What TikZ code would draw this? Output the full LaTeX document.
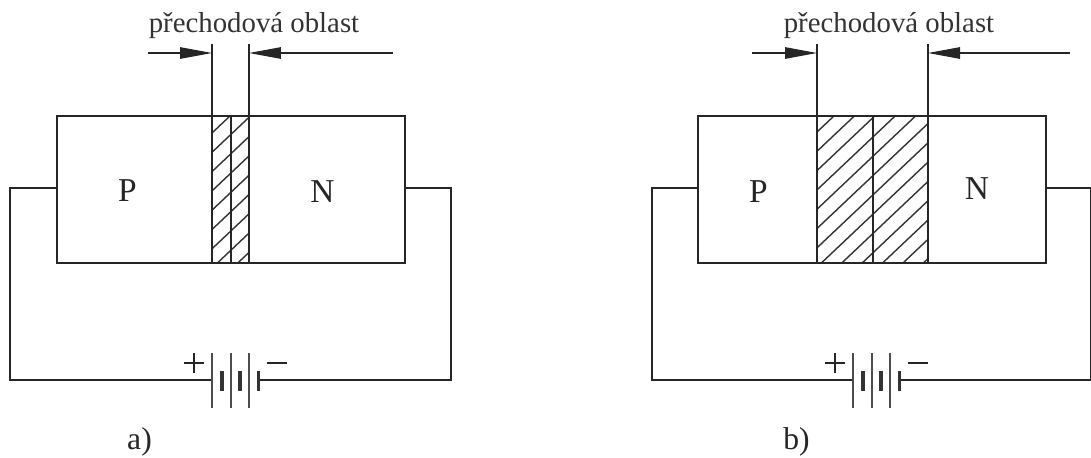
\documentclass[tikz,border=0pt]{standalone}
\usepackage{fontspec}
\setmainfont{Liberation Serif}
\tikzset{
    wire/.style={line width=0.6pt,black!85},
    hatchline/.style={line width=0.8pt,black!80},
    long plate/.style={line width=0.7pt,black!70},
    short plate/.style={line width=1.9pt,black!80},
    width arrow/.style={-{Triangle[length=0.64cm,width=0.23cm]},line width=0.6pt,black!85},
    region label/.style={font=\fontsize{16.4}{19}\selectfont,text=black!80,inner sep=0pt},
    side label/.style={font=\fontsize{19}{22}\selectfont,text=black!85,inner sep=0pt},
    case label/.style={font=\fontsize{18}{21}\selectfont,text=black!85,inner sep=0pt}
}
\usetikzlibrary{arrows.meta}
\begin{document}
\begin{tikzpicture}[x=0.02cm,y=-0.02cm]
        \useasboundingbox (0,0) rectangle (1091,457);

        % --- case a
        \coordinate (a tl) at (57,116);
        \coordinate (a br) at (405,263);
        \coordinate (a wl) at (57,188);
        \coordinate (a wr) at (405,188);
        \coordinate (a cl) at (10,380);
        \coordinate (a cr) at (451,380);
        \coordinate (a rt1) at (212,44);
        \coordinate (a rb1) at (212,263);
        \coordinate (a rt2) at (249,44);
        \coordinate (a rb2) at (249,263);
        \coordinate (a mt) at (231,116);
        \coordinate (a mb) at (231,263);
        \coordinate (a al) at (148,53);
        \coordinate (a ar) at (393,53);
        \coordinate (a tip1) at (212,53);
        \coordinate (a tip2) at (249,53);
        \coordinate (a bl) at (212,380);
        \coordinate (a bn) at (258,380);

        \begin{scope}
            \clip (212,116) rectangle (249,263);
            \foreach \k in {-2,...,8}
                \draw[hatchline] (212,133+19.3*\k) -- ++(37,-35);
        \end{scope}
        \draw[wire] (a tl) rectangle (a br);
        \draw[wire] (a rt1) -- (a rb1);
        \draw[wire] (a rt2) -- (a rb2);
        \draw[wire] (a mt) -- (a mb);
        \draw[width arrow] (a al) -- (a tip1);
        \draw[width arrow] (a ar) -- (a tip2);
        \draw[wire] (a wl) -| (a cl) -- (a bl);
        \draw[wire] (a wr) -| (a cr) -- (a bn);

        % battery a
        \foreach \x in {212,231,249}
            \draw[long plate] (\x,353) -- (\x,408);
        \foreach \x in {222,240,258.5}
            \draw[short plate] (\x,371) -- (\x,391);
        \draw[wire] (184,363) -- (204,363) (194,353) -- (194,373);
        \draw[wire] (267,363) -- (287,363);

        \node[region label] at (254,26) (a region) {přechodová oblast};
        \node[side label] at (127.5,190.5) (a p) {P};
        \node[side label] at (322.5,192) (a n) {N};
        \node[case label] at (139.5,442) (a case) {a)};

        % --- case b
        \coordinate (b tl) at (698,116);
        \coordinate (b br) at (1046,263);
        \coordinate (b wl) at (698,188);
        \coordinate (b wr) at (1046,188);
        \coordinate (b cl) at (652,380);
        \coordinate (b cr) at (1091,380);
        \coordinate (b rt1) at (817,44);
        \coordinate (b rb1) at (817,263);
        \coordinate (b rt2) at (928,44);
        \coordinate (b rb2) at (928,263);
        \coordinate (b mt) at (873,116);
        \coordinate (b mb) at (873,263);
        \coordinate (b al) at (752,53);
        \coordinate (b ar) at (1070,53);
        \coordinate (b tip1) at (817,53);
        \coordinate (b tip2) at (928,53);
        \coordinate (b bl) at (853,380);
        \coordinate (b bn) at (899,380);

        \begin{scope}
            \clip (817,116) rectangle (928,263);
            \foreach \k in {-1,...,12}
                \draw[hatchline] (817,132+19.3*\k) -- ++(111,-105);
        \end{scope}
        \draw[wire] (b tl) rectangle (b br);
        \draw[wire] (b rt1) -- (b rb1);
        \draw[wire] (b rt2) -- (b rb2);
        \draw[wire] (b mt) -- (b mb);
        \draw[width arrow] (b al) -- (b tip1);
        \draw[width arrow] (b ar) -- (b tip2);
        \draw[wire] (b wl) -| (b cl) -- (b bl);
        \draw[wire] (b wr) -| (b cr) -- (b bn);

        % battery b
        \foreach \x in {853,872,890}
            \draw[long plate] (\x,353) -- (\x,408);
        \foreach \x in {863,881,899.5}
            \draw[short plate] (\x,371) -- (\x,391);
        \draw[wire] (825,363) -- (845,363) (835,353) -- (835,373);
        \draw[wire] (908,363) -- (928,363);

        \node[region label] at (889,26) (b region) {přechodová oblast};
        \node[side label] at (758.5,191.5) (b p) {P};
        \node[side label] at (977,189) (b n) {N};
        \node[case label] at (796.5,442) (b case) {b)};
\end{tikzpicture}
\end{document}
